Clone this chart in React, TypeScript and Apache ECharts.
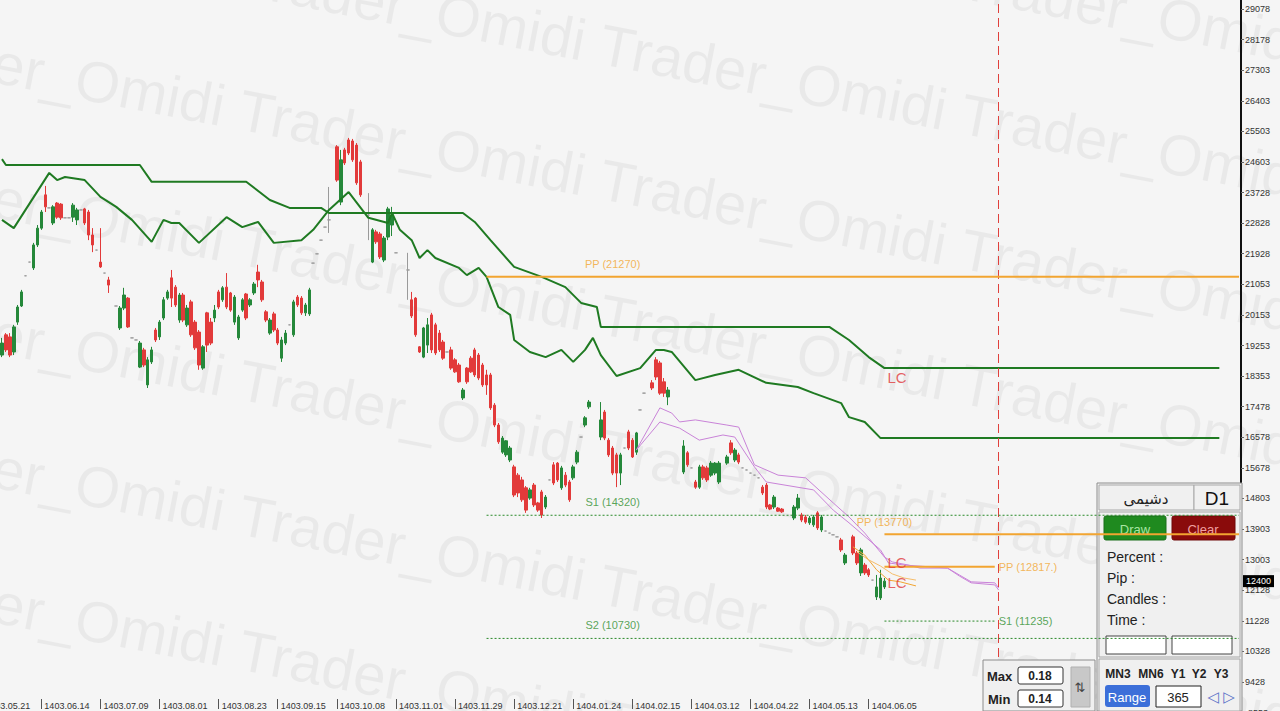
import React, { useEffect, useRef } from "react";
import * as echarts from "echarts";

// ---------- data ----------
const AXIS_FIRST_SLOT = 6; // first bar slot drawn at the left edge
const AXIS_LAST_SLOT = 320; // last (empty, future) slot at the right edge
const FIRST_BAR_SLOT = 6;

// daily candles: [open, close, low, high]; null = no trading
type Candle = [number, number, number, number] | null;
const candles: Candle[] = [
  // slots 6-15
  [18990, 19340, 18930, 19490], [19580, 19140, 19080, 19630], [19520, 18990, 18930, 19630], [19080, 19810, 18990, 19870],
  [19950, 20390, 19870, 20450], [20420, 20830, 20390, 20890], [21300, 21300, 21300, 21300], [21700, 21700, 21700, 21700],
  [21530, 22200, 21470, 22260], [22200, 22690, 22140, 22780],
  // 16-25
  [22690, 23160, 22640, 23220], [23660, 23310, 23160, 23920], [23280, 23280, 23280, 23280], [22840, 23310, 22780, 23360],
  [23420, 23010, 22960, 23450], [23390, 22990, 22930, 23420], [22990, 22990, 22990, 22990], [22990, 22990, 22990, 22990],
  [23010, 23360, 22870, 23420], [22930, 23220, 22780, 23280],
  // 26-35
  [23220, 23220, 23220, 23220], [23250, 22840, 22780, 23280], [23160, 22490, 22340, 23220], [22490, 22200, 21990, 22690],
  [22050, 22050, 22050, 22050], [21700, 21560, 21530, 22690], [21380, 21380, 21380, 21380], [21180, 21030, 20800, 21270],
  null, [20420, 20420, 20420, 20420],
  // 36-45
  [19780, 20360, 19720, 20420], [20360, 20740, 20300, 20950], [20650, 19810, 19780, 20680], [19490, 19490, 19490, 19490],
  [19430, 19430, 19430, 19430], [18640, 19340, 18610, 19400], [19140, 18700, 18640, 19200], [18120, 18850, 18030, 18930],
  [18790, 19140, 18730, 19230], [19720, 19430, 19370, 19780],
  // 46-55
  [19520, 19950, 19430, 20010], [20070, 20600, 20010, 20680], [20650, 20830, 20600, 20890], [21240, 20650, 20390, 21470],
  [20970, 20450, 20390, 21030], [20010, 20740, 19930, 20800], [20740, 20010, 19950, 20800], [19870, 20360, 19810, 20450],
  [20540, 19580, 19520, 20600], [19950, 19200, 19140, 20010],
  // 56-65
  [19660, 18700, 18560, 19720], [18610, 19230, 18560, 19280], [20220, 19280, 19080, 20250], [19950, 19340, 19280, 20070],
  [20070, 20300, 19950, 20450], [20830, 20390, 20330, 20890], [20600, 20950, 20540, 21000], [20970, 20390, 20330, 21380],
  [20800, 20300, 20250, 20830], [19950, 20680, 19870, 20740],
  // 66-75
  [19490, 20100, 19430, 20160], [20300, 20600, 20250, 20650], [20770, 20070, 20010, 20800], [20450, 20600, 20390, 20650],
  [20800, 21060, 20740, 21120], [21410, 21180, 20970, 21620], [21120, 20600, 20540, 21180], [20250, 20010, 19950, 20300],
  [19630, 20010, 19580, 20070], [20190, 19720, 19660, 20250],
  // 76-85
  [19720, 19340, 19280, 19780], [18900, 19430, 18790, 19520], [19340, 19630, 19280, 19720], [19870, 19870, 19870, 19870],
  [19580, 20540, 19520, 20600], [20680, 20450, 20390, 20740], [20650, 20220, 20160, 20710], [20220, 20450, 20130, 20510],
  [20190, 20890, 20130, 20950], [21670, 21670, 21670, 21670],
  // 86-95
  [21940, 21940, 21940, 21940], [22340, 22340, 22340, 22340], [22720, 22720, 22720, 22720], [22930, 22930, 22550, 23890],
  null, [25060, 24090, 24040, 25110], [23450, 24680, 23360, 24970], [24970, 24590, 24530, 25030],
  [25260, 24880, 24820, 25320], [25230, 24680, 24620, 25290],
  // 96-105
  [25110, 24010, 23950, 25170], [24620, 23660, 23600, 24680], null, [23070, 23070, 22340, 23710],
  [21700, 22640, 21670, 22690], [22580, 22290, 22230, 22640], [22520, 21850, 21790, 22580], [21760, 22400, 21700, 22460],
  [22430, 23250, 22340, 23310], [22780, 23070, 22460, 23310],
  // 106-115
  [21970, 21970, 21970, 21970], null, null, [21470, 21470, 20600, 21970],
  [20600, 20130, 20070, 20830], [20650, 19580, 19520, 20680], [19230, 19080, 19050, 19250], [18930, 19780, 18900, 19810],
  [19280, 19870, 19050, 20070], [20160, 19140, 19050, 20220],
  // 116-125
  [19870, 19050, 18990, 19930], [19630, 19140, 19080, 19720], [19370, 18900, 18850, 19430], [19080, 19080, 19080, 19080],
  [19140, 18610, 18560, 19230], [18850, 18500, 18470, 18900], [18700, 18210, 18180, 18760], [17740, 17970, 17680, 18030],
  [18610, 18210, 18150, 18640], [18900, 18500, 18470, 18960],
  // 126-135
  [19140, 18410, 18350, 19200], [18990, 18320, 18260, 19050], [18700, 18120, 18060, 18760], [18410, 18120, 17830, 18560],
  [18410, 17450, 17390, 18470], [17530, 16950, 16890, 17590], [16950, 16460, 16400, 17010], [16160, 16570, 16110, 16630],
  [16080, 16490, 16020, 16510], [15930, 16280, 15870, 16340],
  // 136-145
  [15730, 14910, 14850, 15790], [15490, 14970, 14850, 15550], [15350, 14770, 14710, 15440], [15120, 14470, 14390, 15170],
  [14820, 15060, 14770, 15120], [15200, 14620, 14560, 15260], [14680, 14470, 14420, 14710], [15000, 14330, 14240, 15060],
  [14560, 14850, 14500, 14910], [15350, 15350, 15350, 15350],
  // 146-155
  [15790, 15260, 15200, 15870], [15840, 15350, 15290, 15870], [15120, 15700, 15060, 15760], [15490, 15200, 15140, 15580],
  [15290, 14770, 14710, 15350], [15410, 15730, 15350, 15790], [15870, 16160, 15810, 16220], [16600, 16600, 16600, 16600],
  [16950, 17160, 16890, 17210], [17480, 17620, 17420, 17680],
  // 156-165
  null, null, [16600, 17100, 16510, 17620], [17330, 16570, 16510, 17390],
  [16510, 16080, 16020, 16570], [16280, 15550, 15490, 16340], [16080, 15550, 15140, 16140], [15550, 16080, 15200, 16140],
  [16280, 16280, 16280, 16280], [16750, 16280, 16220, 16810],
  // 166-175
  [16510, 16020, 15990, 16570], [16160, 16720, 16080, 16750], [17390, 17390, 17390, 17390], [17880, 17880, 17880, 17880],
  null, [18180, 18030, 17970, 18260], [18850, 18350, 18260, 18930], [18760, 17880, 17830, 18820],
  [18210, 17880, 17770, 18320], [17770, 17970, 17530, 18060],
  // 176-185
  null, null, null, [15580, 16340, 15520, 16510],
  [16140, 15790, 15730, 16190], [15700, 15700, 15700, 15700], [15290, 15140, 15090, 15350], [15140, 15730, 15090, 15790],
  [15730, 15410, 15350, 15790], [15700, 15350, 15290, 15760],
  // 186-195
  [15490, 15840, 15440, 15900], [15550, 15840, 15490, 15870], [15290, 15840, 15230, 15900], null,
  [15840, 16020, 15790, 16080], [16430, 16140, 16080, 16510], [15930, 16220, 15870, 16280], [16080, 15870, 15810, 16140],
  [15700, 15700, 15700, 15700], [15640, 15640, 15640, 15640],
  // 196-205
  [15550, 15550, 15550, 15550], [15490, 15490, 15490, 15490], [15410, 15410, 15410, 15410], [15140, 14970, 14910, 15200],
  [15200, 14560, 14500, 15260], [14620, 14500, 14470, 14650], [14560, 14850, 14500, 14910], [14530, 14440, 14420, 14560],
  [14500, 14420, 14390, 14530], null,
  // 206-215
  null, [14240, 14560, 14180, 14620], [14530, 14820, 14470, 14940], [14330, 14180, 14120, 14390],
  [14270, 14120, 14070, 14330], [14100, 14240, 14040, 14300], [14040, 14270, 13980, 14330], [14390, 13950, 13890, 14440],
  [13890, 14270, 13830, 14330], [13860, 13860, 13860, 13860],
  // 216-225
  [13800, 13800, 13800, 13800], [13750, 13750, 13750, 13750], [13690, 13690, 13690, 13690], [13600, 13310, 13250, 13660],
  [12930, 13160, 12870, 13220], null, [13690, 13220, 13160, 13750], [13220, 12930, 12870, 13280],
  [12640, 13310, 12550, 13370], [12870, 12640, 12580, 12930],
  // 226-230
  [12730, 12580, 12520, 12780], [12430, 12430, 12430, 12430], [11940, 12230, 11850, 12580], [11910, 12490, 11850, 12730],
  [12230, 12400, 12170, 12490],
];

// time-axis tick labels (every 15 bars, starting at slot 1)
const xTickLabels = [
  "1403.05.21", "1403.06.14", "1403.07.09", "1403.08.01", "1403.08.23", "1403.09.15", "1403.10.08", "1403.11.01",
  "1403.11.29", "1403.12.21", "1404.01.24", "1404.02.15", "1404.03.12", "1404.04.22", "1404.05.13", "1404.06.05",
];
const X_TICK_FIRST_SLOT = 1;
const X_TICK_EVERY = 15;

// price-scale labels, bottom to top (the lowest one sits at the clipped bottom edge)
const yTickLabels = [
  "9428", "10328", "11228", "12128", "13003", "13903", "14803", "15678", "16578", "17478", "18353",
  "19253", "20153", "21053", "21928", "22828", "23728", "24603", "25503", "26403", "27303", "28178", "29078",
];
const yBottomClippedLabel = "8553";
const PRICE_MIN = 8964;
const PRICE_MAX = 29340;
const lastPrice = 12400;
const markerSlot = 259;

// indicator lines: [slot, price]
const channelUpper: [number, number][] = [
  [6, 24700], [7, 24530], [41, 24530], [44, 24040], [68, 24040], [74, 23510], [79, 23280], [87, 23280],
  [89, 23130], [123, 23130], [126, 22870], [130, 22340], [136, 21560], [143, 21270], [149, 20970], [153, 20510],
  [157, 20390], [158, 19810], [216, 19810], [221, 19430], [226, 18930], [230, 18610], [315, 18610],
];
const channelLower: [number, number][] = [
  [6, 22930], [9, 22690], [18, 24300], [20, 24090], [22, 24180], [27, 24090], [31, 23600], [35, 23310],
  [39, 22930], [44, 22290], [47, 22930], [49, 22840], [51, 22840], [56, 22260], [63, 23010], [67, 22720], [71, 22870],
  [75, 22260], [82, 22340], [85, 22640], [89, 23220], [94, 23740], [99, 22990], [104, 22840], [105, 23130], [107, 22640],
  [110, 22340], [112, 21820], [114, 22050], [116, 21820], [122, 21530], [124, 21320], [127, 21530], [129, 21270],
  [132, 20390], [135, 20160], [136, 19430], [140, 19080], [144, 18930], [148, 19140], [151, 18790], [154, 19140],
  [156, 19490], [158, 18990], [162, 18380], [168, 18610], [172, 19140], [174, 19140], [176, 19080], [182, 18260],
  [187, 18410], [193, 18560], [200, 18180], [208, 18060], [212, 17880], [219, 17590], [221, 17180], [225, 17040],
  [229, 16570], [315, 16570],
];
const envelopeUpper: [number, number][] = [
  [167, 16220], [173, 17450], [176, 17300], [178, 17040], [182, 17100], [190, 16950], [193, 16890], [197, 15790],
  [203, 15490], [210, 15410], [217, 14680], [221, 14270], [225, 13800], [230, 13100], [232, 12960], [236, 12870],
  [239, 12780], [246, 12780], [249, 12580], [252, 12380], [258, 12350], [259, 12200],
];
const envelopeLower: [number, number][] = [
  [167, 16220], [173, 17040], [178, 16860], [183, 16510], [189, 16660], [192, 16600], [197, 15730], [200, 15290],
  [212, 15060], [217, 14470], [221, 14100], [229, 13310], [231, 12930], [235, 12870], [246, 12780], [249, 12550],
  [252, 12350], [258, 12290], [259, 12140],
];
const fastUpper: [number, number][] = [[222, 13400], [225, 13160], [228, 12730], [231, 12430], [234, 12380], [238, 12260]];
const fastLower: [number, number][] = [[223, 13250], [226, 13020], [229, 12840], [232, 12610], [235, 12490], [238, 12430]];

// pivot levels
const pivotNames = ["PP (21270)", "PP (13770)", "PP (12817.)"];
const pivotValues = [21270, 13770, 12817];
const pivotFrom = [129, 230, 230];
const pivotTo = [320, 320, 258];
const pivotLabelAt = [161, 230, 258];
const supportNames = ["S1 (14320)", "S2 (10730)", "S1 (11235)"];
const supportValues = [14320, 10730, 11235];
const supportFrom = [129, 129, 230];
const supportTo = [320, 320, 258];
const supportLabelAt = [161, 161, 258];
const lcValues = [18350, 12930, 12350];
const LC_SLOT = 230;

// ---------- styling ----------
const GREEN = "#25883a";
const RED = "#e23a3a";
const LINE_GREEN = "#1f7a22";
const ORANGE = "#f2a531";
const PURPLE = "#c983d8";
const FONT = '"Liberation Sans", Arial, sans-serif';
const W = 1280;
const H = 711;
const GRID_RIGHT = 39;

function txt(x: number, y: number, text: string, o: any = {}) {
  const align = o.align || "left";
  return {
    type: "text",
    x,
    y,
    z: o.z ?? 1,
    silent: true,
    style: {
      text,
      fill: o.fill || "#222",
      font: `${o.weight || "normal"} ${o.size || 13}px ${o.family || FONT}`,
      align,
      verticalAlign: "middle",
      textAlign: align,
      textVerticalAlign: "middle",
    },
  };
}
function box(x: number, y: number, w: number, h: number, fill: string, stroke: string | null, z = 1, r = 0) {
  return {
    type: "rect",
    z,
    silent: true,
    shape: { x, y, width: w, height: h, r },
    style: { fill, stroke: stroke || "none", lineWidth: 1 },
  };
}

function buildOption() {
  const slotCount = AXIS_LAST_SLOT - AXIS_FIRST_SLOT + 1;
  const toX = (slot: number) => slot - AXIS_FIRST_SLOT;
  const categories = Array.from({ length: slotCount }, (_, i) => String(i + AXIS_FIRST_SLOT));
  const tickMap: Record<number, string> = {};
  const hiddenTicks: { slot: number; text: string }[] = [];
  xTickLabels.forEach((t, k) => {
    const slot = X_TICK_FIRST_SLOT + k * X_TICK_EVERY;
    if (slot >= AXIS_FIRST_SLOT) tickMap[toX(slot)] = t;
    else hiddenTicks.push({ slot, text: t });
  });
  const isTick = (idx: number) => tickMap[idx] !== undefined;

  const candleData = categories.map((_, i) => {
    const c = candles[i + AXIS_FIRST_SLOT - FIRST_BAR_SLOT];
    return c ? c : ["-", "-", "-", "-"];
  });

  const pts = (data: [number, number][]) => data.map(([s, v]) => [toX(s), v]);
  const lineSeries = (data: [number, number][], color: string, width: number, z = 4, type: any = "solid") => ({
    type: "line",
    data: pts(data),
    symbol: "none",
    silent: true,
    z,
    lineStyle: { color, width, type },
  });

  const series: any[] = [
    {
      type: "candlestick",
      data: candleData,
      barWidth: 3,
      z: 3,
      itemStyle: {
        color: GREEN,
        color0: RED,
        borderColor: GREEN,
        borderColor0: RED,
        borderColorDoji: "#9a9a9a",
        borderWidth: 1,
      },
      markLine: {
        silent: true,
        symbol: "none",
        lineStyle: { color: "#e0403c", type: [9, 5], width: 1 },
        label: { show: false },
        data: [
          { xAxis: toX(markerSlot) },
          {
            yAxis: lastPrice,
            lineStyle: { color: "rgba(0,0,0,0)", width: 0 },
            label: {
              show: true,
              position: "end",
              distance: 2,
              formatter: String(lastPrice),
              backgroundColor: "#000",
              color: "#fff",
              fontSize: 9,
              fontFamily: FONT,
              padding: [2, 3, 1, 3],
            },
          },
        ],
      },
    },
    lineSeries(channelUpper, LINE_GREEN, 2),
    lineSeries(channelLower, LINE_GREEN, 2),
    lineSeries(envelopeUpper, PURPLE, 1),
    lineSeries(envelopeLower, PURPLE, 1),
    lineSeries(fastUpper, ORANGE, 1),
    lineSeries(fastLower, "#f5bd6a", 1),
  ];
  pivotValues.forEach((v, k) =>
    series.push(lineSeries([[pivotFrom[k], v], [pivotTo[k], v]], ORANGE, 2, 5))
  );
  supportValues.forEach((v, k) =>
    series.push(lineSeries([[supportFrom[k], v], [supportTo[k], v]], "#2a8a2a", 1, 5, [2, 2]))
  );

  const labelData: any[] = [];
  pivotValues.forEach((v, k) =>
    labelData.push({
      value: [toX(pivotLabelAt[k]), v],
      label: { formatter: pivotNames[k], color: ORANGE, position: k === 2 ? "right" : "top", distance: k === 2 ? 4 : 7 },
    })
  );
  supportValues.forEach((v, k) =>
    labelData.push({
      value: [toX(supportLabelAt[k]), v],
      label: { formatter: supportNames[k], color: "#2f8f2f", position: k === 2 ? "right" : "top", distance: k === 2 ? 4 : 8 },
    })
  );
  lcValues.forEach((v) =>
    labelData.push({
      value: [toX(LC_SLOT), v],
      label: { formatter: "LC", color: "#e03a3a", fontSize: 15, position: "right", distance: 3 },
    })
  );
  series.push({
    type: "scatter",
    data: labelData,
    symbolSize: 0,
    silent: true,
    z: 6,
    label: { show: true, fontSize: 11, fontFamily: FONT },
  });

  // watermark rows
  const watermark: any[] = [];
  const ang = 0.19;
  const period = 360;
  for (let k = -4; k <= 5; k++) {
    watermark.push({
      type: "text",
      x: 35 - 2 * period * Math.cos(ang),
      y: 40 + 135 * k - 2 * period * Math.sin(ang),
      rotation: -ang,
      z: 0,
      silent: true,
      style: {
        text: "_Omidi Trader".repeat(7),
        fill: "rgba(0,0,0,0.048)",
        font: `58px ${FONT}`,
      },
    });
  }

  // axis-extension texts (tick at a slot left of the visible axis, clipped price label at the bottom)
  const slotW = (W - GRID_RIGHT) / slotCount;
  const extras: any[] = hiddenTicks.map((h) => {
    const x = (toX(h.slot) + 0.5) * slotW;
    return txt(x + 3, 706, h.text, { size: 9, fill: "#333" });
  });
  extras.push(txt(W - GRID_RIGHT + 7, 713, yBottomClippedLabel, { size: 9, fill: "#333" }));

  const panel: any[] = [
    box(1097, 483, 145, 228, "#f0f0f0", "#8c8c8c"),
    box(1099, 485, 95, 25, "#f0f0f0", "#a8a8a8"),
    txt(1146, 498, "دشیمی", { align: "center", size: 15, family: '"Noto Sans", "DejaVu Sans", sans-serif' }),
    box(1194, 485, 46, 25, "#f0f0f0", "#a8a8a8"),
    txt(1217, 498, "D1", { align: "center", size: 19, fill: "#111" }),
    box(1099, 512, 141, 145, "#f0f0f0", "#a8a8a8"),
    box(1104, 516, 62, 24, "#1f8a1f", "#1a6e1a", 1, 2),
    txt(1135, 529, "Draw", { align: "center", size: 13, fill: "#a9e6a3" }),
    box(1172, 516, 63, 24, "#8a0b0b", "#6e0808", 1, 2),
    txt(1203, 529, "Clear", { align: "center", size: 13, fill: "#f0a0a0" }),
    txt(1107, 557, "Percent :", { size: 14 }),
    txt(1107, 578, "Pip :", { size: 14 }),
    txt(1107, 599, "Candles :", { size: 14 }),
    txt(1107, 620, "Time :", { size: 14 }),
    box(1106, 636, 60, 18, "#ffffff", "#444"),
    box(1172, 636, 60, 18, "#ffffff", "#444"),
    box(1099, 659, 141, 52, "#f0f0f0", "#a8a8a8"),
    txt(1118, 674, "MN3", { align: "center", size: 12, weight: "bold" }),
    txt(1151, 674, "MN6", { align: "center", size: 12, weight: "bold" }),
    txt(1178, 674, "Y1", { align: "center", size: 12, weight: "bold" }),
    txt(1199, 674, "Y2", { align: "center", size: 12, weight: "bold" }),
    txt(1221, 674, "Y3", { align: "center", size: 12, weight: "bold" }),
    box(1105, 685, 45, 22, "#3c6fd9", null, 1, 3),
    txt(1127, 697, "Range", { align: "center", size: 13, fill: "#fff" }),
    box(1156, 686, 45, 21, "#ffffff", "#222"),
    txt(1178, 697, "365", { align: "center", size: 13 }),
    txt(1213, 697, "◁", { align: "center", size: 15, fill: "#5a70c8", family: '"DejaVu Sans", sans-serif' }),
    txt(1229, 697, "▷", { align: "center", size: 15, fill: "#5a70c8", family: '"DejaVu Sans", sans-serif' }),
    // Max / Min box
    box(983, 660, 112, 51, "#f0f0f0", "#8c8c8c", 10),
    txt(987, 676, "Max", { size: 13, weight: "bold", z: 10 }),
    box(1018, 667, 45, 17, "#ffffff", "#333", 10, 2),
    txt(1040, 676, "0.18", { align: "center", size: 12, weight: "bold", z: 10 }),
    txt(988, 699, "Min", { size: 13, weight: "bold", z: 10 }),
    box(1018, 690, 45, 17, "#ffffff", "#333", 10, 2),
    txt(1040, 699, "0.14", { align: "center", size: 12, weight: "bold", z: 10 }),
    box(1071, 667, 19, 40, "#c8c8c8", "#b0b0b0", 10),
    txt(1080, 687, "⇅", { align: "center", size: 13, fill: "#444", z: 10, family: '"DejaVu Sans", sans-serif' }),
  ];

  return {
    animation: false,
    backgroundColor: "#f5f5f5",
    grid: [
      { left: 0, right: GRID_RIGHT, top: 0, bottom: 12 },
      { left: 0, right: GRID_RIGHT, top: 9, bottom: 29 },
    ],
    xAxis: [
      {
        type: "category",
        gridIndex: 0,
        data: categories,
        boundaryGap: true,
        axisLine: { show: false, onZero: false },
        axisTick: {
          show: true,
          alignWithLabel: true,
          interval: (idx: number) => isTick(idx),
          length: 10,
          lineStyle: { color: "#555", width: 1 },
        },
        axisLabel: {
          interval: (idx: number) => isTick(idx),
          formatter: (_v: string, idx: number) => tickMap[idx] || "",
          align: "left",
          padding: [0, 0, 0, 3],
          margin: 2,
          fontSize: 9,
          color: "#333",
          fontFamily: FONT,
        },
        splitLine: { show: false },
      },
      { type: "value", gridIndex: 1, show: false, min: 0, max: 1, axisLine: { onZero: false } },
    ],
    yAxis: [
      {
        type: "value",
        gridIndex: 0,
        position: "right",
        min: PRICE_MIN,
        max: PRICE_MAX,
        axisLine: { show: true, onZero: false, lineStyle: { color: "#111", width: 2 } },
        axisTick: { show: false },
        axisLabel: { show: false },
        splitLine: { show: false },
      },
      {
        type: "category",
        gridIndex: 1,
        position: "right",
        data: yTickLabels,
        boundaryGap: false,
        axisLine: { show: false, onZero: false },
        axisTick: { show: true, length: 3, lineStyle: { color: "#666" } },
        axisLabel: { fontSize: 9, color: "#333", margin: 4, fontFamily: FONT },
        splitLine: { show: false },
      },
    ],
    graphic: { elements: [...watermark, ...extras, ...panel] },
    series,
  };
}

export default function App() {
  const ref = useRef<HTMLDivElement>(null);
  useEffect(() => {
    document.body.style.margin = "0";
    const chart = echarts.init(ref.current as HTMLDivElement, null, { renderer: "svg" });
    chart.setOption(buildOption() as any);
    return () => chart.dispose();
  }, []);
  return <div ref={ref} style={{ width: W, height: H }} />;
}
